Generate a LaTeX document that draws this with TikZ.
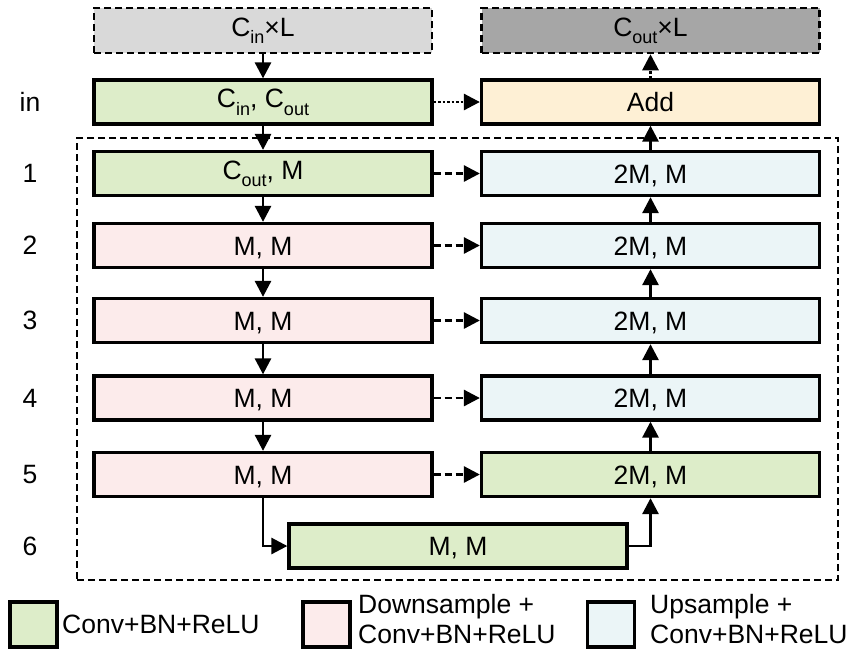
\documentclass[tikz,border=0pt]{standalone}
\usepackage{fontspec}
\setmainfont{Liberation Sans}
\usetikzlibrary{arrows.meta}
\definecolor{convgreen}{HTML}{DDEDC9}
\definecolor{downpink}{HTML}{FCEBEB}
\definecolor{upblue}{HTML}{EBF5F7}
\definecolor{addcream}{HTML}{FEF0D5}
\definecolor{ingray}{HTML}{D9D9D9}
\definecolor{outgray}{HTML}{A6A6A6}
% lowered subscript used in the channel labels
\newcommand\lowtxt[1]{\raisebox{-0.3em}{\fontsize{18}{18}\selectfont #1}}

\begin{document}
\begin{tikzpicture}[x=1pt,y=-1pt,
  font=\fontsize{26.5}{30}\selectfont,
  blk/.style={draw=black, line width=3.3pt, minimum width=338pt, minimum height=44pt,
              inner sep=0pt, text height=19pt, text depth=0pt},
  subtxt/.style={text depth=8pt},
  conv/.style={blk, fill=convgreen},
  down/.style={blk, fill=downpink},
  up/.style={blk, fill=upblue},
  addblk/.style={blk, fill=addcream},
  tensor/.style={blk, minimum height=45pt, line width=2.5pt, dash pattern=on 7pt off 4pt},
  rowlbl/.style={inner sep=0pt},
  flow/.style={line width=2.8pt, -{Triangle[length=16pt,width=16pt]}},
  skip/.style={flow, dash pattern=on 7pt off 4pt},
  resid/.style={flow, dash pattern=on 2.5pt off 2pt},
  frame/.style={draw=black, line width=2.5pt, dash pattern=on 7pt off 4pt,
                minimum width=761pt, minimum height=442pt, inner sep=0pt},
  legsq/.style={draw=black, line width=3.3pt, minimum width=47pt, minimum height=45pt, inner sep=0pt},
  legtxt/.style={inner sep=0pt, anchor=base west}
]
\useasboundingbox (0,0) rectangle (858,657);

% enclosing frame of the encoder/decoder stack
\node[frame] (stack) at (457.5,359) {};

% input / output tensors
\node[tensor, fill=ingray, subtxt] (xin) at (263,30.5) {C\lowtxt{in}×L};
\node[tensor, fill=outgray, subtxt] (xout) at (650.5,30.5) {C\lowtxt{out}×L};

% input block and residual add
\node[conv, subtxt] (L0) at (263,102) {C\lowtxt{in}, C\lowtxt{out}};
\node[addblk] (add) at (650.5,102) {Add};

% encoder column
\node[conv, subtxt] (L1) at (263,173.5) {C\lowtxt{out}, M};
\node[down] (L2) at (263,245.5) {M, M};
\node[down] (L3) at (263,320.5) {M, M};
\node[down] (L4) at (263,398) {M, M};
\node[down] (L5) at (263,474.5) {M, M};

% bottleneck
\node[conv] (B6) at (458,546) {M, M};

% decoder column
\node[up] (R1) at (650.5,173.5) {2M, M};
\node[up] (R2) at (650.5,245.5) {2M, M};
\node[up] (R3) at (650.5,320.5) {2M, M};
\node[up] (R4) at (650.5,398) {2M, M};
\node[conv] (R5) at (650.5,474.5) {2M, M};

% row labels
\node[rowlbl] (lin) at (30,102) {in};
\node[rowlbl] (l1) at (30,173.5) {1};
\node[rowlbl] (l2) at (30,245.5) {2};
\node[rowlbl] (l3) at (30,320.5) {3};
\node[rowlbl] (l4) at (30,398) {4};
\node[rowlbl] (l5) at (30,474.5) {5};
\node[rowlbl] (l6) at (30,546) {6};

% main path
\draw[flow] (xin) -- (L0);
\draw[flow] (L0) -- (L1);
\draw[flow] (L1) -- (L2);
\draw[flow] (L2) -- (L3);
\draw[flow] (L3) -- (L4);
\draw[flow] (L4) -- (L5);
\draw[flow] (L5.south) |- (B6.west);
\draw[flow] (B6.east) -| (R5.south);
\draw[flow] (R5) -- (R4);
\draw[flow] (R4) -- (R3);
\draw[flow] (R3) -- (R2);
\draw[flow] (R2) -- (R1);
\draw[flow] (R1) -- (add);

% skip connections
\draw[skip] (L1) -- (R1);
\draw[skip] (L2) -- (R2);
\draw[skip] (L3) -- (R3);
\draw[skip] (L4) -- (R4);
\draw[skip] (L5) -- (R5);

% residual path and output
\draw[resid] (L0) -- (add);
\draw[resid] (add) -- (xout);

% legend
\node[legsq, fill=convgreen] (kc) at (33.5,624.5) {};
\node[legtxt] (kct) at (62,633) {Conv+BN+ReLU};
\node[legsq, fill=downpink] (kd) at (326.5,624.5) {};
\node[legtxt] (kdt1) at (358,613) {Downsample +};
\node[legtxt] (kdt2) at (358,643) {Conv+BN+ReLU};
\node[legsq, fill=upblue] (ku) at (611,624.5) {};
\node[legtxt] (kut1) at (650,613) {Upsample +};
\node[legtxt] (kut2) at (650,643) {Conv+BN+ReLU};
\end{tikzpicture}
\end{document}
